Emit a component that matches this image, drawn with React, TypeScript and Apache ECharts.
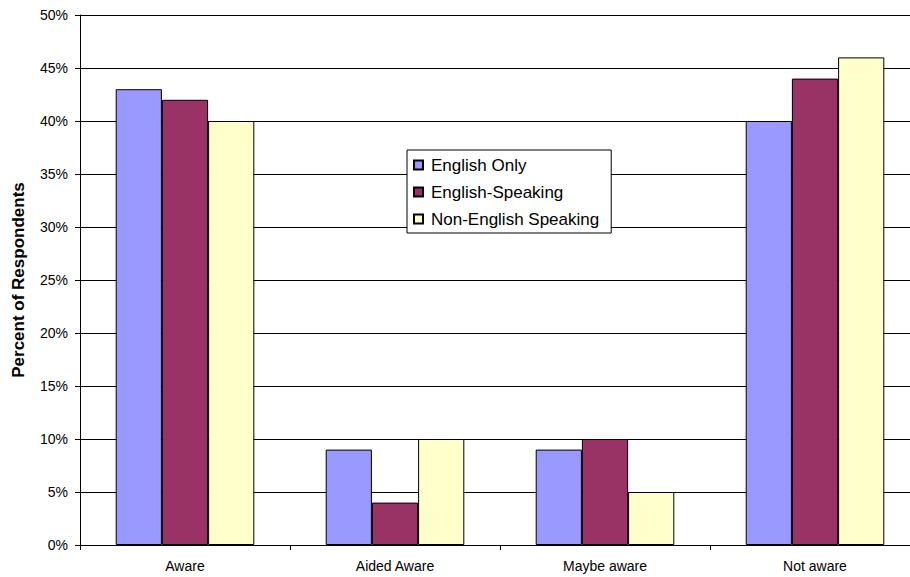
import React, { useEffect, useRef } from "react";
import * as echarts from "echarts";

const categories = ["Aware", "Aided Aware", "Maybe aware", "Not aware"];
const englishOnly = [43, 9, 9, 40];
const englishSpeaking = [42, 4, 10, 44];
const nonEnglishSpeaking = [40, 10, 5, 46];
const seriesNames = ["English Only", "English-Speaking", "Non-English Speaking"];
const colors = ["#9999FF", "#993366", "#FFFFCC"];

export default function App() {
  const ref = useRef<HTMLDivElement>(null);
  useEffect(() => {
    if (!ref.current) return;
    const chart = echarts.init(ref.current, null, { renderer: "svg" });
    const font = "'Liberation Sans', Arial, sans-serif";
    const datas = [englishOnly, englishSpeaking, nonEnglishSpeaking];
    chart.setOption({
      animation: false,
      backgroundColor: "#ffffff",
      textStyle: { fontFamily: font },
      grid: { left: 80, top: 15, right: -10, bottom: 32, containLabel: false, outerBoundsMode: "none" },
      legend: {
        orient: "vertical",
        left: 407,
        top: 150,
        itemWidth: 9,
        itemHeight: 9,
        itemGap: 7,
        padding: [5, 12, 4, 6],
        borderColor: "#000",
        borderWidth: 1,
        backgroundColor: "#fff",
        icon: "rect",
        textStyle: { fontFamily: font, fontSize: 17, color: "#000", lineHeight: 20, padding: [0, 0, 0, 3] },
        data: seriesNames,
      },
      xAxis: {
        type: "category",
        data: categories,
        axisLine: { lineStyle: { color: "#000", width: 1 } },
        axisTick: { show: true, length: 5, lineStyle: { color: "#000" } },
        axisLabel: { color: "#000", fontSize: 14, fontFamily: font, margin: 14 },
      },
      yAxis: {
        type: "value",
        min: 0,
        max: 50,
        interval: 5,
        name: "Percent of Respondents",
        nameLocation: "middle",
        nameGap: 53,
        nameTextStyle: { fontFamily: font, fontSize: 17, fontWeight: "bold", color: "#000" },
        axisLine: { show: true, lineStyle: { color: "#000", width: 1 } },
        axisTick: { show: true, length: 5, lineStyle: { color: "#000" } },
        axisLabel: { color: "#000", fontSize: 14, fontFamily: font, margin: 12, formatter: "{value}%" },
        splitLine: { show: true, lineStyle: { color: "#000", width: 1 } },
      },
      series: seriesNames.map((name, i) => ({
        name,
        type: "bar",
        data: datas[i],
        barGap: "0%",
        barCategoryGap: "34%",
        itemStyle: { color: colors[i], borderColor: "#000", borderWidth: 1 },
      })),
    });
    return () => chart.dispose();
  }, []);
  return (
    <div
      ref={ref}
      style={{ position: "absolute", left: 0, top: 0, width: 910, height: 577, overflow: "hidden" }}
    />
  );
}
